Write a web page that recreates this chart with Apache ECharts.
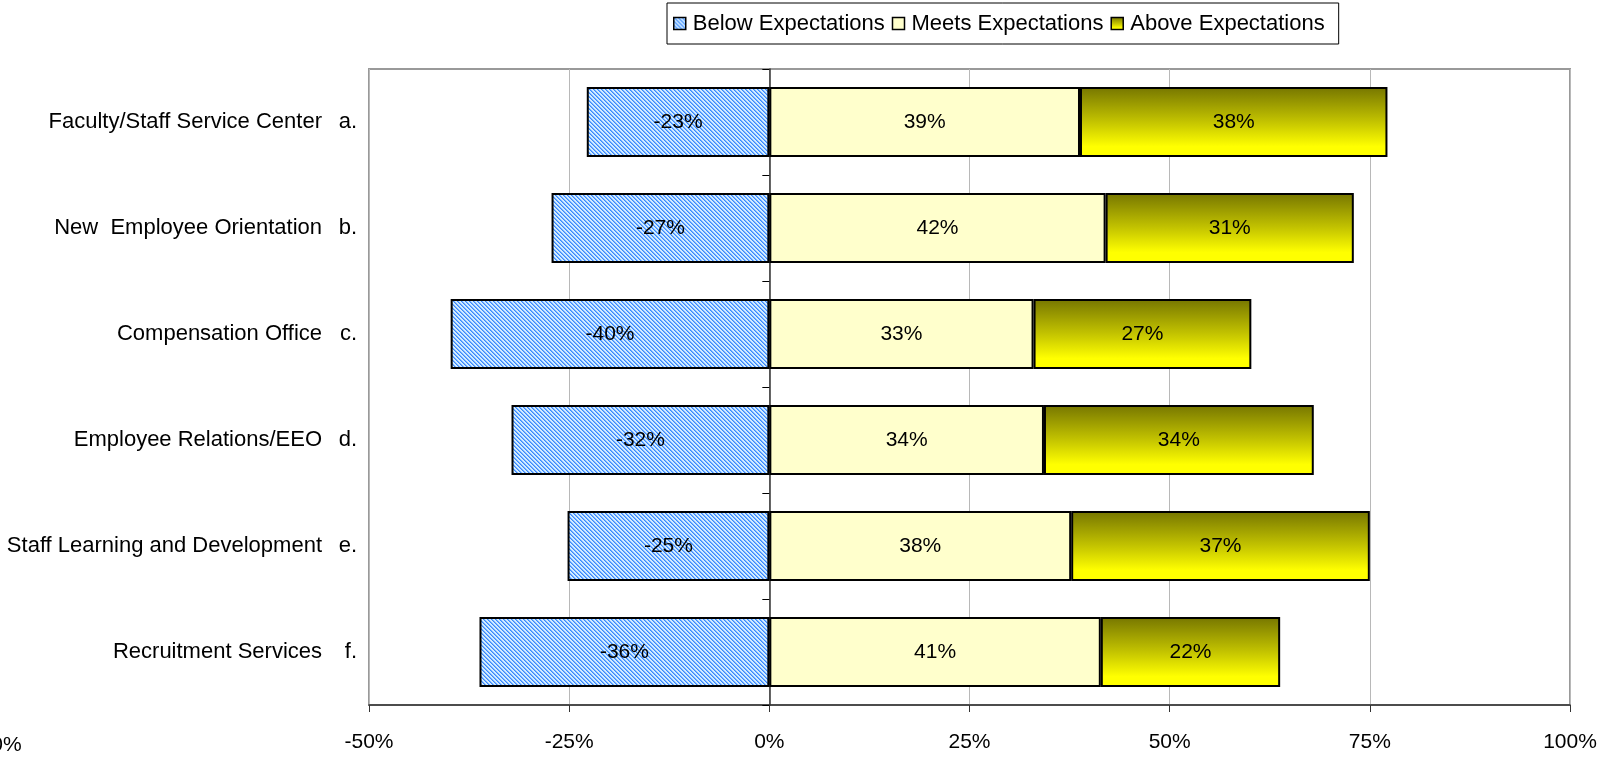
<!DOCTYPE html>
<html>
<head>
<meta charset="utf-8">
<script src="https://cdn.jsdelivr.net/npm/echarts@6/dist/echarts.min.js"></script>
<style>
html,body{margin:0;padding:0;background:#fff;}
#chart{width:1621px;height:760px;}
</style>
</head>
<body>
<div id="chart"></div>
<script>
const categories = ['Faculty/Staff Service Center', 'New  Employee Orientation', 'Compensation Office', 'Employee Relations/EEO', 'Staff Learning and Development', 'Recruitment Services'];
const letters = ['a.', 'b.', 'c.', 'd.', 'e.', 'f.'];
const belowValues = [-22.8, -27.2, -39.8, -32.2, -25.2, -36.2];
const meetsValues = [38.8, 42.0, 33.0, 34.3, 37.7, 41.4];
const aboveValues = [38.4, 31.0, 27.2, 33.7, 37.3, 22.4];
const xTicks = { min: -50, max: 100, interval: 25 };
const seriesNames = ['Below Expectations', 'Meets Expectations', 'Above Expectations'];

const FONT = '"Liberation Sans", Arial, sans-serif';

// hatch pattern for "Below Expectations"
const pat = document.createElement('canvas');
pat.width = 4; pat.height = 4;
const pctx = pat.getContext('2d');
for (let y = 0; y < 4; y++) {
  for (let x = 0; x < 4; x++) {
    const d = ((x - y) % 4 + 4) % 4;
    pctx.fillStyle = d === 0 ? '#3a86ff' : (d === 1 ? '#78b4ff' : '#d2ecff');
    pctx.fillRect(x, y, 1, 1);
  }
}

const chart = echarts.init(document.getElementById('chart'), null, { renderer: 'canvas' });

const labelStyle = {
  show: true,
  position: 'inside',
  color: '#000',
  fontSize: 21,
  fontFamily: FONT,
  formatter: p => Math.round(p.value) + '%'
};

chart.setOption({
  animation: false,
  backgroundColor: '#fff',
  textStyle: { fontFamily: FONT },
  legend: {
    left: 667,
    top: 3,
    icon: 'rect',
    itemWidth: 12,
    itemHeight: 12,
    itemGap: 7,
    padding: [8, 14, 8, 6],
    borderColor: '#000',
    borderWidth: 1,
    itemStyle: { borderColor: '#000', borderWidth: 1.5 },
    textStyle: { fontSize: 22, color: '#000', fontFamily: FONT, lineHeight: 25, padding: [0, 0, 0, 2] },
    data: seriesNames
  },
  grid: {
    left: 369,
    right: 51,
    top: 69,
    bottom: 55,
    show: true,
    borderColor: '#999',
    borderWidth: 2,
    containLabel: false
  },
  xAxis: {
    type: 'value',
    min: xTicks.min,
    max: xTicks.max,
    interval: xTicks.interval,
    axisLine: { show: true, onZero: false, lineStyle: { color: '#333', width: 1.5 } },
    axisTick: { show: true, length: 7, lineStyle: { color: '#333' } },
    axisLabel: { formatter: '{value}%', fontSize: 21, color: '#000', fontFamily: FONT, margin: 27 },
    splitLine: { show: true, lineStyle: { color: '#b8b8b8', width: 1 } }
  },
  yAxis: [
    {
      type: 'category',
      inverse: true,
      position: 'left',
      data: categories,
      axisLine: { show: true, onZero: true, lineStyle: { color: '#333', width: 1.5 } },
      axisTick: { show: true, length: 7, lineStyle: { color: '#000' } },
      axisLabel: { show: false },
      splitLine: { show: false }
    },
    {
      type: 'category',
      inverse: true,
      position: 'left',
      data: categories,
      axisLine: { show: false, onZero: false },
      axisTick: { show: false },
      splitLine: { show: false },
      axisLabel: {
        margin: 12,
        formatter: (v, i) => '{n|' + v + '}{l|' + letters[i] + '}',
        rich: {
          n: { fontSize: 22, color: '#000', fontFamily: FONT },
          l: { fontSize: 22, color: '#000', fontFamily: FONT, width: 35, align: 'right' }
        }
      }
    }
  ],
  series: [
    {
      name: seriesNames[0],
      type: 'bar',
      stack: 'total',
      yAxisIndex: 0,
      barWidth: '66%',
      data: belowValues,
      itemStyle: { color: { image: pat, repeat: 'repeat' }, borderColor: '#000', borderWidth: 2 },
      label: labelStyle
    },
    {
      name: seriesNames[1],
      type: 'bar',
      stack: 'total',
      yAxisIndex: 0,
      barWidth: '66%',
      data: meetsValues,
      itemStyle: { color: '#ffffcc', borderColor: '#000', borderWidth: 2 },
      label: labelStyle
    },
    {
      name: seriesNames[2],
      type: 'bar',
      stack: 'total',
      yAxisIndex: 0,
      barWidth: '66%',
      data: aboveValues,
      itemStyle: {
        color: new echarts.graphic.LinearGradient(0, 0, 0, 1, [
          { offset: 0, color: '#767600' },
          { offset: 0.5, color: '#c4c400' },
          { offset: 0.85, color: '#ffff00' },
          { offset: 1, color: '#ffff00' }
        ]),
        borderColor: '#000',
        borderWidth: 2
      },
      label: labelStyle
    }
  ],
  graphic: [
    {
      type: 'text',
      left: -32,
      top: 735,
      style: { text: '100%', fontSize: 21, fill: '#000', fontFamily: FONT }
    }
  ]
});
</script>
</body>
</html>
